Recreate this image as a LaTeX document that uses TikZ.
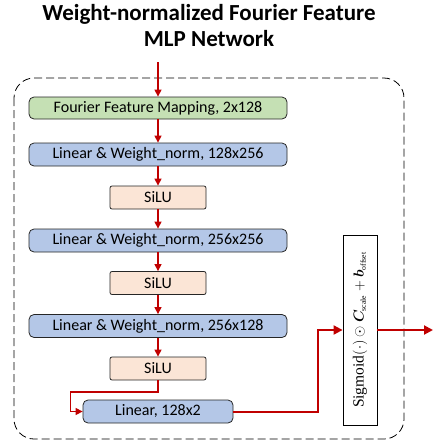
\documentclass[tikz,border=0pt]{standalone}
\usepackage{amsmath,bm}
\usepackage{fontspec}
\setmainfont{Liberation Serif}
\newfontfamily\calfont{Carlito}
\usetikzlibrary{arrows.meta}
\definecolor{arrred}{HTML}{C00000}
\definecolor{fgreen}{HTML}{C5E0B4}
\definecolor{fblue}{HTML}{B4C7E7}
\definecolor{fpeach}{HTML}{FBE5D6}
\begin{document}
\begin{tikzpicture}[x=1pt,y=-1pt,
  blk/.style={draw=black!85,line width=0.8pt,rounded corners=5pt,inner sep=0pt,minimum height=23pt,font=\calfont\fontsize{16}{18}\selectfont},
  wide/.style={blk,minimum width=258pt},
  act/.style={blk,fill=fpeach,minimum width=96pt,rounded corners=2pt},
  arr/.style={draw=arrred,line width=1.3pt,-{Triangle[length=7pt,width=7pt]}},
  arrb/.style={draw=arrred,line width=2pt,-{Triangle[length=9pt,width=9pt]}}]
\useasboundingbox (0,0) rectangle (433,445);
\node[font=\calfont\bfseries\fontsize{23}{26}\selectfont,align=center] (title) at (209,26) {Weight-normalized Fourier Feature\\MLP Network};
\draw[dash pattern=on 8pt off 4pt,line width=0.8pt,rounded corners=20pt] (14,78) rectangle (404,439);
\node[wide,fill=fgreen,minimum height=22pt] (ff) at (158,108) {Fourier Feature Mapping, 2x128};
\node[wide,fill=fblue] (l1) at (158,154.5) {Linear \& Weight\_norm, 128x256};
\node[act] (s1) at (158,197.5) {SiLU};
\node[wide,fill=fblue] (l2) at (158,240.5) {Linear \& Weight\_norm, 256x256};
\node[act] (s2) at (158,283) {SiLU};
\node[wide,fill=fblue] (l3) at (158,326) {Linear \& Weight\_norm, 256x128};
\node[act] (s3) at (158,368.5) {SiLU};
\node[blk,fill=fblue,minimum width=150pt] (l4) at (158,411.5) {Linear, 128x2};
\node[draw=black,line width=0.8pt,fill=white,minimum width=34pt,minimum height=190pt,inner sep=0pt] (sig) at (360,330) {};
\node[rotate=90,font=\fontsize{15.5}{18}\selectfont] (sigtxt) at (sig.center) {Sigmoid$\left(\cdot\right)\odot\bm{C}_{\scriptscriptstyle\mathrm{scale}}+\bm{b}_{\scriptscriptstyle\mathrm{offset}}$};
\coordinate (in) at (158,62);
\coordinate (out) at (433,330);
\draw[arr] (in) -- (ff);
\draw[arr] (ff) -- (l1);
\draw[arr] (l1) -- (s1);
\draw[arr] (s1) -- (l2);
\draw[arr] (l2) -- (s2);
\draw[arr] (s2) -- (l3);
\draw[arr] (l3) -- (s3);
\draw[arr] (s3.south) -- ++(0,11.5) -| ([xshift=-12pt]l4.west) -- (l4.west);
\draw[arrb] (l4.east) -| ([xshift=-25pt]sig.west) -- (sig.west);
\draw[arrb] (sig.east) -- (out);
\end{tikzpicture}
\end{document}
